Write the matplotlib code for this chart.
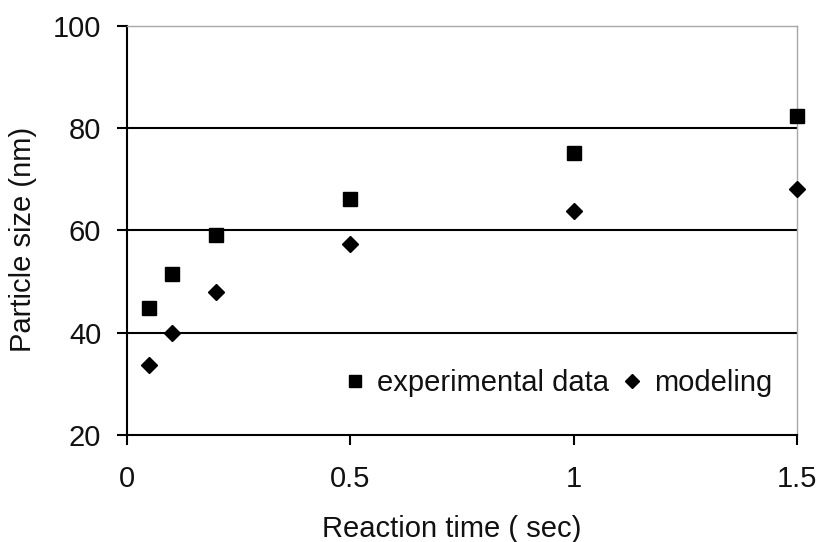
import matplotlib
matplotlib.use("Agg")
import matplotlib.pyplot as plt

# Data
reaction_time = [0.05, 0.1, 0.2, 0.5, 1.0, 1.5]
experimental = [44.9, 51.4, 59.0, 66.1, 75.2, 82.3]
modeling = [33.7, 40.0, 47.9, 57.3, 63.8, 68.0]
x_ticks = [0, 0.5, 1, 1.5]
x_tick_labels = ["0", "0.5", "1", "1.5"]
y_ticks = [20, 40, 60, 80, 100]

plt.rcParams['font.family'] = ['Liberation Sans', 'DejaVu Sans']
FS = 21

fig = plt.figure(figsize=(8.19, 5.42), dpi=100)
ax = fig.add_axes([127/819, 1-435/542, (797-127)/819, (435-25.7)/542])

for yv in [40, 60, 80]:
    ax.axhline(yv, color='black', lw=1.5, zorder=1)

ax.plot(reaction_time, experimental, linestyle='none', marker='s', markersize=9.5,
        color='black', label='experimental data', zorder=3, clip_on=False)
ax.plot(reaction_time, modeling, linestyle='none', marker='D', markersize=8,
        color='black', label='modeling', zorder=3, clip_on=False)

ax.set_xlim(0, 1.5)
ax.set_ylim(20, 100)
ax.set_xticks(x_ticks)
ax.set_xticklabels(x_tick_labels)
ax.set_yticks(y_ticks)

ax.spines['left'].set_color('black')
ax.spines['left'].set_linewidth(1.5)
ax.spines['bottom'].set_color('black')
ax.spines['bottom'].set_linewidth(1.5)
ax.spines['top'].set_color('#a8a8a8')
ax.spines['top'].set_linewidth(1.0)
ax.spines['right'].set_color('#a8a8a8')
ax.spines['right'].set_linewidth(1.0)

ax.tick_params(axis='both', direction='out', length=7.5, width=1.5, color='black',
               labelsize=FS, labelcolor='#111111')
ax.tick_params(axis='x', pad=14)
ax.tick_params(axis='y', pad=11)

ax.set_xlabel('Reaction time ( sec)', fontsize=FS, color='#111111')
ax.xaxis.set_label_coords((452-127)/670, -(515-435)/409.3)
ax.set_ylabel('Particle size (nm)', fontsize=FS, color='#111111')
ax.yaxis.set_label_coords(-(127-37)/670, (435-239)/409.3)

leg = ax.legend(ncol=2, frameon=False, loc='center',
                bbox_to_anchor=((559-127)/670, (435-383)/409.3),
                fontsize=FS, markerscale=0.9, handlelength=0.6,
                handletextpad=0.45, columnspacing=0.5, borderpad=0)
for t in leg.get_texts():
    t.set_color('#111111')

fig.savefig('out.png', dpi=100)
